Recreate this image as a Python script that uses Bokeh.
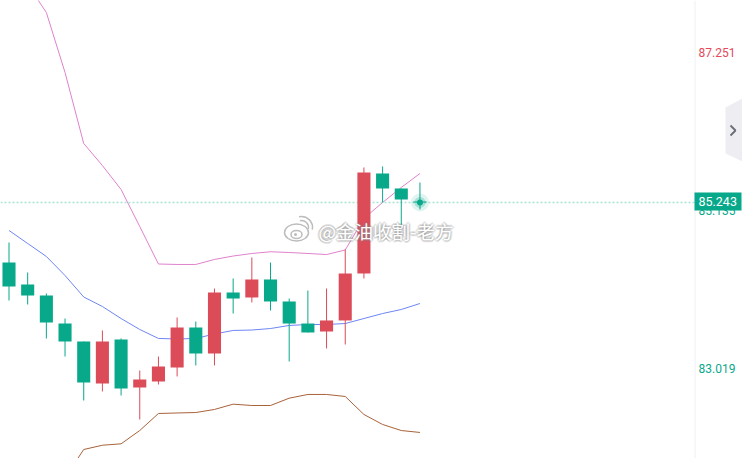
from bokeh.core.properties import value
from bokeh.embed import file_html
from bokeh.plotting import figure
from bokeh.resources import INLINE

opens = [84.438, 84.144, 83.996, 83.621, 83.380, 82.818, 83.407, 82.764, 82.845, 83.032, 83.568, 83.220,
         84.037, 83.970, 84.211, 83.916, 83.621, 83.514, 83.662, 84.291, 85.630, 85.429, 85.255]
highs = [84.706, 84.304, 84.023, 83.688, 83.380, 83.528, 83.421, 82.992, 83.179, 83.702, 83.648, 84.090,
         84.224, 84.505, 84.438, 83.956, 84.063, 84.090, 84.612, 85.711, 85.724, 85.429, 85.510]
lows = [83.929, 83.876, 83.421, 83.179, 82.590, 82.711, 82.657, 82.336, 82.804, 82.912, 83.059, 83.059,
        83.755, 83.903, 83.795, 83.112, 83.501, 83.287, 83.340, 84.224, 85.242, 84.934, 85.148]
closes = [84.117, 83.996, 83.635, 83.380, 82.831, 83.380, 82.751, 82.871, 83.046, 83.568, 83.220, 84.037,
          83.956, 84.211, 83.916, 83.621, 83.501, 83.662, 84.291, 85.644, 85.429, 85.282, 85.242]

# bollinger bands, the upper one leaves the chart at the left
upper = [float("nan"), 88.161, 87.786, 86.983, 86.032, 85.737, 85.416, 84.920, 84.418, 84.412, 84.412, 84.479,
         84.525, 84.559, 84.582, 84.572, 84.559, 84.545, 84.606, 85.028, 85.242, 85.443, 85.630]
middle = [84.867, 84.693, 84.519, 84.264, 83.976, 83.849, 83.688, 83.541, 83.421, 83.414, 83.421, 83.481,
          83.528, 83.534, 83.554, 83.595, 83.608, 83.608, 83.621, 83.688, 83.755, 83.809, 83.889]
lower = [float("nan"), float("nan"), float("nan"), 81.559, 81.934, 81.991, 82.010, 82.188, 82.416, 82.423, 82.429,
         82.470, 82.541, 82.523, 82.523, 82.621, 82.671, 82.671, 82.644, 82.403, 82.269, 82.188, 82.162]

tick_values = [87.251, 85.135, 83.019]
tick_labels = ["87.251", "85.135", "83.019"]
tick_colors = ["#E5495A", "#0AA88C", "#0AA88C"]
last_price = 85.243
watermark = "@金油收割-老方"

GREEN = "#08A88A"
RED = "#DB4B58"
FONT = value("Roboto")
CJK = value("Noto Sans CJK SC")

STEP = 18.68  # px per candle
PX_PER_UNIT = 74.67  # px per price unit


def fx(px):
    # page pixel to candle index
    return (px - 8.5) / STEP


def fy(px):
    # page pixel to price
    return 87.947 - px / PX_PER_UNIT


p = figure(width=742, height=458, x_range=(fx(0), fx(742)), y_range=(fy(458), fy(0)),
           x_axis_location=None, y_axis_location=None, toolbar_location=None,
           output_backend="svg", min_border=0, background_fill_color="white", tools="")
p.grid.visible = False
p.outline_line_color = None

idx = list(range(len(opens)))

p.line(idx, upper, line_color="#DE82CC", line_width=1)
p.line(idx, middle, line_color="#6E86F5", line_width=1)
p.line(idx, lower, line_color="#A8623A", line_width=1)

# last price line
p.segment(fx(0), last_price, fx(694), last_price, line_color="#A9E3D8", line_width=1.5, line_dash="2 2")

colors = [GREEN if c < o else RED for o, c in zip(opens, closes)]
p.segment(idx, highs, idx, lows, line_color=colors, line_width=1)
p.vbar(idx, 0.7, opens, closes, fill_color=colors, line_color=None)

# live dot on the newest candle
p.scatter([idx[-1]], [closes[-1]], size=18, fill_color=GREEN, fill_alpha=0.12, line_color=None)
p.scatter([idx[-1]], [closes[-1]], size=11, fill_color=GREEN, fill_alpha=0.25, line_color=None)
p.scatter([idx[-1]], [closes[-1]], size=6, fill_color=GREEN, line_color=None)

# weibo watermark, white text on a grey halo
halo = "#8a8a8a"
for dx, dy in [(-2, 0), (2, 0), (0, -2), (0, 2), (-1, -1), (1, -1), (-1, 1), (1, 1)]:
    p.text([fx(318 + dx)], [fy(230 + dy)], text=[watermark], text_font=CJK, text_font_size="18.5px",
           text_color=halo, text_alpha=0.22, text_baseline="middle")
p.text([fx(318)], [fy(230)], text=[watermark], text_font=CJK, text_font_size="18.5px",
       text_color="white", text_baseline="middle")
p.ellipse([fx(296)], [fy(232)], width=24 / STEP, height=17 / PX_PER_UNIT, fill_color="white",
          line_color="#bdbdbd", line_width=1.5)
p.ellipse([fx(296)], [fy(234)], width=11 / STEP, height=8 / PX_PER_UNIT, fill_color="white",
          line_color="#bdbdbd", line_width=1.5)
p.scatter([fx(295)], [fy(234)], size=3, fill_color="#bdbdbd", line_color=None)
p.arc([fx(301)], [fy(227)], radius=7, radius_units="screen", start_angle=-0.2, end_angle=1.8,
      line_color="#bdbdbd", line_width=1.5)
p.arc([fx(301)], [fy(227)], radius=11, radius_units="screen", start_angle=-0.2, end_angle=1.8,
      line_color="#bdbdbd", line_width=1.5)

# price scale on the right
p.segment(fx(694.5), fy(0), fx(694.5), fy(458), line_color="#EEF0F4", line_width=1)
p.text([fx(698)] * 3, tick_values, text=tick_labels, text_color=tick_colors, text_font=FONT,
       text_font_size="12px", text_baseline="middle")
p.quad(left=fx(694), right=fx(741), top=fy(192), bottom=fy(210), fill_color=GREEN, line_color=None)
p.text([fx(698)], [fy(201)], text=[f"{last_price:.3f}"], text_color="white", text_font=FONT,
       text_font_size="12.5px", text_baseline="middle")

# collapse handle
p.patch([fx(725), fx(742), fx(742), fx(725)], [fy(107), fy(98), fy(161), fy(153)],
        fill_color="#EDEDF2", line_color=None)
p.line([fx(730), fx(735), fx(730)], [fy(125), fy(130), fy(135)], line_color="#6A6D78", line_width=1.8)

open("out.html", "w").write(file_html(p, INLINE))
